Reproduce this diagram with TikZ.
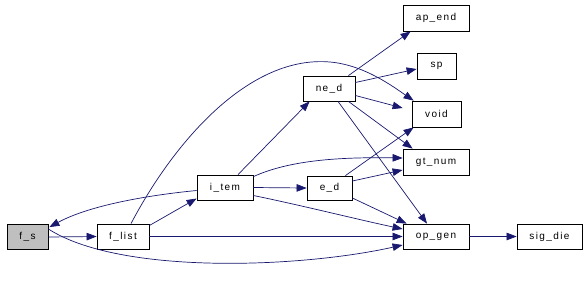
\documentclass[tikz,border=0pt]{standalone}
\usepackage{fontspec}
\setmainfont{Liberation Sans}[LetterSpace=14]
\usetikzlibrary{arrows.meta,calc}
\definecolor{edgeblue}{HTML}{191970}
\tikzset{
  fn/.style={draw=black, line width=0.8bp, fill=white, inner sep=0pt, font=\fontsize{10bp}{12bp}\selectfont, text=black},
  call/.style={draw=edgeblue, line width=0.7bp, -{Triangle[length=10bp,width=7.5bp]}, fill=none},
}
\begin{document}
\begin{tikzpicture}[x=1bp,y=-1bp]
\useasboundingbox (0,0) rectangle (586,282);
\fill[white] (0,0) rectangle (586,282);
% nodes (centres in pixel coords)
\node[fn, fill={rgb,255:red,191;green,191;blue,191}, minimum width=41bp, minimum height=25bp] (fs) at (27.5,237) {f\_s};
\node[fn, minimum width=52bp, minimum height=25bp] (flist) at (123,236.5) {f\_list};
\node[fn, minimum width=56bp, minimum height=25bp] (item) at (225,187.5) {i\_tem};
\node[fn, minimum width=52bp, minimum height=25bp] (ned) at (329,88.5) {ne\_d};
\node[fn, minimum width=66bp, minimum height=26bp] (apend) at (436,18) {ap\_end};
\node[fn, minimum width=39bp, minimum height=26bp] (sp) at (436.5,66) {sp};
\node[fn, minimum width=49bp, minimum height=26bp] (void) at (436.5,114) {void};
\node[fn, minimum width=66bp, minimum height=26bp] (gtnum) at (436,162) {gt\_num};
\node[fn, minimum width=45bp, minimum height=24bp] (ed) at (329.5,188) {e\_d};
\node[fn, minimum width=66bp, minimum height=25bp] (opgen) at (436,236.5) {op\_gen};
\node[fn, minimum width=65bp, minimum height=25bp] (sigdie) at (549.5,236.5) {sig\_die};
% edges
\draw[call] (fs.east) -- (flist.west);
\draw[call] ($(fs.east)+(0,-8)$) .. controls (120,275) and (300,268) .. ($(opgen.west)+(0,8.5)$);
\draw[call] ($(flist.east)+(0,-11)$) -- ($(item.west)+(0,11)$);
\draw[call] (flist.east) -- (opgen.west);
\draw[call] ($(flist.north)+(8,0)$) .. controls (175,140) and (250,55) .. (330,62) .. controls (365,65) and (395,88) .. ($(void.north west)+(2,0)$);
\draw[call] ($(item.west)+(0,3)$) .. controls (150,195) and (90,205) .. ($(fs.north east)+(1,3)$);
\draw[call] ($(item.north)+(13,0)$) -- ($(ned.south west)+(7,0)$);
\draw[call] (item.east) -- (ed.west);
\draw[call] ($(item.north east)+(0,2)$) .. controls (290,160) and (340,157) .. ($(gtnum.west)+(0,-4)$);
\draw[call] ($(item.east)+(0,8)$) .. controls (300,205) and (360,220) .. ($(opgen.west)+(0,-7.5)$);
\draw[call] ($(ned.north east)+(-7,0)$) -- ($(apend.south west)+(8,0)$);
\draw[call] ($(ned.east)+(0,-6)$) -- ($(sp.west)+(0,3)$);
\draw[call] ($(ned.east)+(0,7)$) -- ($(void.west)+(-9,-6)$);
\draw[call] ($(ned.south east)+(-7,0)$) -- ($(gtnum.north west)+(10,0)$);
\draw[call] ($(ned.south)+(9,0)$) -- ($(opgen.north)+(-9,0)$);
\draw[call] ($(ed.north east)+(-7,0)$) -- ($(void.south west)+(2,0)$);
\draw[call] ($(ed.east)+(0,-7)$) -- ($(gtnum.west)+(0,8)$);
\draw[call] ($(ed.east)+(0,10)$) -- ($(opgen.north west)+(4,0)$);
\draw[call] (opgen.east) -- (sigdie.west);
\end{tikzpicture}
\end{document}
